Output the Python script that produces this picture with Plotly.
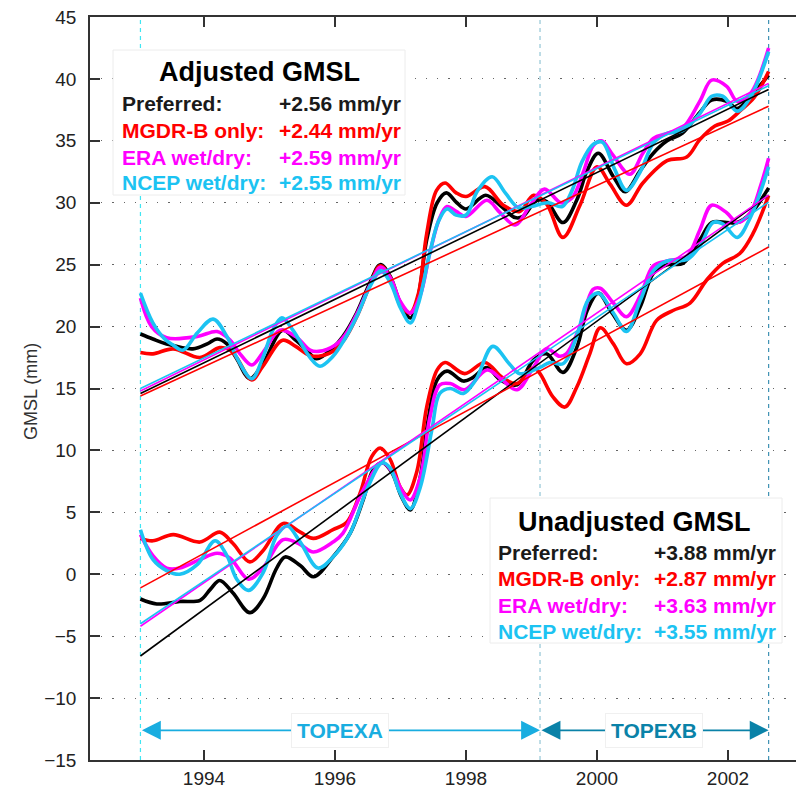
import plotly.graph_objects as go
import numpy as np

# ---------------- data ----------------
adj_pref_x = [1993.03, 1993.22, 1993.43, 1993.83, 1994.05, 1994.2, 1994.35, 1994.5, 1994.7, 1994.9,
              1995.2, 1995.4, 1995.55, 1995.72, 1995.97, 1996.12, 1996.33, 1996.53, 1996.69, 1996.84,
              1996.99, 1997.15, 1997.27, 1997.4, 1997.56, 1997.7, 1997.86, 1998.0, 1998.3, 1998.52,
              1998.75, 1998.87, 1999.08, 1999.23, 1999.48, 1999.69, 1999.85, 2000.02, 2000.25, 2000.43,
              2000.66, 2000.86, 2001.07, 2001.3, 2001.57, 2001.75, 2001.98, 2002.14, 2002.34, 2002.62]
adj_pref_y = [19.4, 19.0, 18.6, 18.2, 18.6, 19.0, 18.6, 17.4, 15.8, 17.0,
              19.7, 18.9, 18.2, 17.4, 18.3, 19.2, 21.1, 23.5, 25.0, 24.1,
              22.0, 20.7, 22.4, 27.0, 30.0, 30.8, 30.0, 29.5, 30.6, 29.8,
              28.8, 28.9, 30.2, 30.1, 28.4, 30.2, 32.6, 34.0, 32.1, 30.9,
              32.6, 34.0, 35.0, 35.6, 37.3, 38.3, 38.2, 37.6, 38.6, 40.3]

adj_mgdr_x = [1993.03, 1993.22, 1993.53, 1993.94, 1994.24, 1994.4, 1994.5, 1994.73, 1994.9, 1995.2,
              1995.4, 1995.6, 1995.75, 1995.97, 1996.15, 1996.35, 1996.53, 1996.69, 1996.84, 1996.99,
              1997.15, 1997.27, 1997.4, 1997.55, 1997.68, 1997.85, 1998.0, 1998.29, 1998.57, 1998.82,
              1999.03, 1999.23, 1999.48, 1999.74, 2000.0, 2000.2, 2000.45, 2000.7, 2001.07, 2001.37,
              2001.57, 2001.8, 2002.0, 2002.2, 2002.4, 2002.62]
adj_mgdr_y = [17.9, 17.8, 18.2, 17.5, 18.3, 18.1, 17.5, 15.7, 16.8, 18.9,
              18.4, 17.7, 17.6, 18.0, 19.0, 21.0, 23.3, 24.9, 24.0, 21.8,
              21.1, 22.6, 27.5, 31.0, 31.6, 30.8, 30.5, 31.3, 29.8, 29.3,
              30.6, 29.9, 27.2, 29.8, 32.9, 31.5, 29.8, 31.6, 33.4, 33.7,
              35.1, 36.2, 36.6, 37.5, 38.5, 40.6]

adj_era_x = [1993.03, 1993.2, 1993.43, 1993.9, 1994.2, 1994.4, 1994.55, 1994.73, 1994.9, 1995.16,
             1995.4, 1995.62, 1995.75, 1996.0, 1996.15, 1996.35, 1996.53, 1996.7, 1996.85, 1997.0,
             1997.15, 1997.3, 1997.45, 1997.6, 1997.71, 1997.85, 1998.0, 1998.32, 1998.52, 1998.75,
             1998.98, 1999.2, 1999.45, 1999.62, 1999.8, 1999.94, 2000.07, 2000.25, 2000.5, 2000.7,
             2000.86, 2001.07, 2001.3, 2001.57, 2001.75, 2001.98, 2002.14, 2002.34, 2002.62]
adj_era_y = [22.3, 20.0, 19.1, 19.2, 19.6, 18.9, 17.8, 16.9, 17.9, 19.7,
             19.2, 18.1, 18.0, 18.5, 19.3, 21.2, 23.3, 24.8, 23.9, 22.0,
             21.1, 22.5, 26.0, 28.8, 29.7, 29.3, 28.9, 30.2, 29.2, 28.2,
             29.8, 31.1, 30.0, 30.4, 32.6, 34.6, 35.0, 33.8, 32.3, 34.0,
             35.2, 35.6, 36.0, 38.2, 39.9, 39.4, 38.2, 38.8, 42.5]

adj_ncep_x = [1993.03, 1993.22, 1993.4, 1993.53, 1993.68, 1993.9, 1994.14, 1994.35, 1994.5, 1994.73,
              1994.9, 1995.05, 1995.19, 1995.36, 1995.62, 1995.77, 1995.97, 1996.15, 1996.35, 1996.53,
              1996.7, 1996.85, 1997.0, 1997.15, 1997.27, 1997.45, 1997.58, 1997.71, 1997.85, 1998.0,
              1998.18, 1998.4, 1998.6, 1998.8, 1999.0, 1999.25, 1999.47, 1999.62, 1999.77, 1999.94,
              2000.08, 2000.27, 2000.45, 2000.66, 2000.86, 2001.07, 2001.3, 2001.57, 2001.75, 2001.92,
              2002.14, 2002.34, 2002.62]
adj_ncep_y = [22.7, 20.3, 19.0, 18.5, 18.1, 19.5, 20.6, 19.2, 17.5, 15.8,
              17.5, 19.7, 20.7, 19.7, 17.5, 16.8, 17.6, 19.0, 21.0, 23.2,
              24.5, 23.5, 21.5, 20.3, 21.8, 26.0, 28.5, 29.5, 29.0, 29.0,
              31.0, 32.1, 30.8, 29.6, 29.7, 30.0, 29.7, 31.0, 33.3, 34.7,
              34.9, 32.7, 31.0, 32.5, 34.8, 35.6, 35.8, 37.2, 38.6, 38.6,
              37.4, 38.5, 42.2]

un_pref_x = [1993.03, 1993.28, 1993.63, 1993.94, 1994.1, 1994.24, 1994.44, 1994.7, 1994.9, 1995.11,
             1995.24, 1995.47, 1995.67, 1995.97, 1996.23, 1996.43, 1996.58, 1996.72, 1996.87, 1997.02,
             1997.15, 1997.3, 1997.42, 1997.56, 1997.71, 1997.96, 1998.11, 1998.32, 1998.52, 1998.78,
             1999.03, 1999.23, 1999.48, 1999.69, 1999.85, 2000.02, 2000.23, 2000.45, 2000.66, 2000.86,
             2001.07, 2001.31, 2001.57, 2001.75, 2001.98, 2002.14, 2002.34, 2002.62]
un_pref_y = [-2.0, -2.4, -2.2, -2.1, -1.2, -0.5, -1.5, -3.1, -2.0, 0.5,
             1.4, 0.7, -0.2, 1.4, 3.3, 6.0, 8.4, 9.0, 8.2, 6.2,
             5.2, 7.8, 12.4, 15.7, 16.4, 15.6, 15.9, 16.7, 15.7, 15.3,
             17.3, 17.8, 16.3, 18.3, 21.3, 22.7, 21.1, 19.7, 21.6, 24.3,
             25.0, 25.1, 27.0, 28.4, 28.4, 28.4, 29.1, 31.2]

un_mgdr_x = [1993.03, 1993.22, 1993.53, 1993.94, 1994.24, 1994.44, 1994.7, 1994.9, 1995.21, 1995.47,
             1995.67, 1995.97, 1996.18, 1996.38, 1996.56, 1996.69, 1996.84, 1997.0, 1997.1, 1997.25,
             1997.4, 1997.56, 1997.68, 1997.98, 1998.29, 1998.55, 1998.78, 1999.03, 1999.13, 1999.33,
             1999.51, 1999.69, 1999.89, 2000.05, 2000.25, 2000.45, 2000.66, 2000.91, 2001.16, 2001.42,
             2001.68, 2001.92, 2002.18, 2002.38, 2002.62]
un_mgdr_y = [2.9, 2.7, 3.2, 2.6, 3.4, 2.5, 1.0, 1.9, 4.1, 3.4,
             2.9, 3.6, 4.2, 6.5, 9.5, 10.2, 9.3, 7.0, 6.4, 8.3,
             13.5, 16.5, 17.1, 16.2, 17.1, 15.9, 15.4, 16.7, 16.2, 14.3,
             13.5, 15.1, 17.8, 19.9, 18.6, 17.0, 17.8, 20.5, 21.3, 21.9,
             23.8, 25.1, 25.9, 27.5, 30.6]

un_era_x = [1993.03, 1993.22, 1993.43, 1993.63, 1993.94, 1994.2, 1994.4, 1994.68, 1994.9, 1995.21,
            1995.47, 1995.67, 1995.97, 1996.12, 1996.43, 1996.72, 1996.87, 1997.04, 1997.15, 1997.3,
            1997.45, 1997.6, 1997.76, 1997.98, 1998.32, 1998.55, 1998.78, 1999.03, 1999.23, 1999.43,
            1999.53, 1999.74, 1999.94, 2000.05, 2000.25, 2000.45, 2000.66, 2000.86, 2001.07, 2001.37,
            2001.57, 2001.75, 2001.98, 2002.14, 2002.34, 2002.5, 2002.62]
un_era_y = [3.2, 1.5, 0.5, 0.5, 1.2, 1.7, 1.3, -0.4, 0.5, 2.8,
            2.4, 1.8, 2.6, 3.3, 6.8, 9.0, 8.3, 6.6, 6.0, 7.8,
            12.7, 15.3, 15.4, 14.9, 16.5, 15.7, 14.9, 16.7, 18.2, 17.6,
            17.8, 20.0, 23.0, 23.1, 21.9, 20.8, 22.5, 24.9, 25.3, 25.7,
            27.8, 29.8, 29.2, 28.4, 29.2, 31.4, 33.6]

un_ncep_x = [1993.03, 1993.22, 1993.43, 1993.63, 1993.9, 1994.17, 1994.35, 1994.5, 1994.68, 1994.9,
             1995.11, 1995.27, 1995.47, 1995.74, 1995.97, 1996.23, 1996.5, 1996.72, 1996.84, 1996.99,
             1997.15, 1997.3, 1997.48, 1997.6, 1997.76, 1997.96, 1998.15, 1998.41, 1998.66, 1998.82,
             1999.13, 1999.28, 1999.48, 1999.69, 1999.86, 2000.02, 2000.25, 2000.45, 2000.66, 2000.86,
             2001.07, 2001.37, 2001.57, 2001.77, 2001.92, 2002.14, 2002.34, 2002.62]
un_ncep_y = [3.6, 1.2, 0.3, 0.0, 0.8, 2.7, 1.5, -0.4, -1.3, 0.1,
             3.1, 3.9, 2.6, 0.5, 1.4, 3.3, 7.0, 9.0, 8.6, 6.6,
             5.3, 7.0, 11.7, 14.6, 15.0, 14.6, 15.7, 18.4, 17.0, 16.2,
             16.7, 17.1, 17.0, 19.2, 22.1, 22.7, 21.1, 19.6, 22.1, 24.5,
             25.3, 25.4, 26.5, 28.4, 28.3, 27.2, 28.8, 32.9]

series_labels = ["Preferred:", "MGDR-B only:", "ERA wet/dry:", "NCEP wet/dry:"]
adj_rates = [2.56, 2.44, 2.59, 2.55]
un_rates = [3.88, 2.87, 3.63, 3.55]
adj_trend_start = [14.6, 14.4, 14.8, 15.0]   # trend value at the start of the record
un_trend_start = [-6.6, -1.1, -4.2, -4.0]
trend_span = [1993.03, 2002.62]

phase_bounds = [1993.03, 1999.13, 2002.62]
phase_names = ["TOPEXA", "TOPEXB"]
phase_arrow_level = -12.6

x_ticks = [1994, 1996, 1998, 2000, 2002]
y_ticks = [-15, -10, -5, 0, 5, 10, 15, 20, 25, 30, 35, 40, 45]

# ---------------- styling ----------------
colors = ["#000000", "#ff0000", "#ff00ff", "#1cc3f2"]
text_colors = ["#1a1a1a", "#ff0000", "#ff00ff", "#1cc3f2"]
phase_colors = ["#19ade0", "#0a82a8"]
bound_colors = ["#3fe6f2", "#93c6d6", "#3f92b4"]
FONT = "Liberation Sans, Arial, Helvetica, sans-serif"

PAGE_OFF = 8                 # page body margin
W, H = 804 - PAGE_OFF, 789 - PAGE_OFF
L, R, T, B = 90 - PAGE_OFF, 0, 17 - PAGE_OFF, 789 - 760
PW, PH = W - L - R, H - T - B


def px2paper(px, py):
    """page pixel -> paper fraction"""
    fx = px - PAGE_OFF
    fy = py - PAGE_OFF
    return (fx - L) / PW, (H - B - fy) / PH


fig = go.Figure()

adj_series = [(adj_pref_x, adj_pref_y), (adj_mgdr_x, adj_mgdr_y), (adj_era_x, adj_era_y), (adj_ncep_x, adj_ncep_y)]
un_series = [(un_pref_x, un_pref_y), (un_mgdr_x, un_mgdr_y), (un_era_x, un_era_y), (un_ncep_x, un_ncep_y)]

for group in (adj_series, un_series):
    for (xs, ys), c in zip(group, colors):
        fig.add_trace(go.Scatter(x=xs, y=ys, mode="lines",
                                 line=dict(color=c, width=3.6, shape="spline", smoothing=1.0),
                                 hoverinfo="skip"))

tx = np.array(trend_span)
for starts, rates in ((adj_trend_start, adj_rates), (un_trend_start, un_rates)):
    for s, r, c in zip(starts, rates, colors):
        fig.add_trace(go.Scatter(x=tx, y=s + r * (tx - tx[0]), mode="lines",
                                 line=dict(color=c, width=1.6), hoverinfo="skip"))

shapes = []
for xb, bc in zip(phase_bounds, bound_colors):
    shapes.append(dict(type="line", xref="x", yref="paper", x0=xb, x1=xb, y0=0, y1=1,
                       line=dict(color=bc, width=1.2, dash="4px,4px"), layer="between"))

# text boxes
boxes = [
    dict(title="Adjusted GMSL", rates=adj_rates, box=(113, 50, 405, 195), title_xy=(259, 72),
         lab_x=120, val_x=277, rows=[103, 130, 157, 183]),
    dict(title="Unadjusted GMSL", rates=un_rates, box=(490, 498, 782, 643), title_xy=(634, 522),
         lab_x=496, val_x=652, rows=[552, 578, 605, 631]),
]
annotations = []
for bx in boxes:
    x0, y1 = px2paper(bx["box"][0], bx["box"][1])
    x1, y0 = px2paper(bx["box"][2], bx["box"][3])
    shapes.append(dict(type="rect", xref="paper", yref="paper", x0=x0, x1=x1, y0=y0, y1=y1,
                       fillcolor="white", line=dict(color="#ececec", width=1), layer="above"))
    tx_, ty_ = px2paper(*bx["title_xy"])
    annotations.append(dict(xref="paper", yref="paper", x=tx_, y=ty_, text="<b>%s</b>" % bx["title"],
                            showarrow=False, xanchor="center", yanchor="middle",
                            font=dict(family=FONT, size=27, color="#000000")))
    for lab, rate, tc, ry in zip(series_labels, bx["rates"], text_colors, bx["rows"]):
        lx, ly = px2paper(bx["lab_x"], ry)
        vx, _ = px2paper(bx["val_x"], ry)
        annotations.append(dict(xref="paper", yref="paper", x=lx, y=ly, text="<b>%s</b>" % lab,
                                showarrow=False, xanchor="left", yanchor="middle",
                                font=dict(family=FONT, size=21, color=tc)))
        annotations.append(dict(xref="paper", yref="paper", x=vx, y=ly, text="<b>+%.2f mm/yr</b>" % rate,
                                showarrow=False, xanchor="left", yanchor="middle",
                                font=dict(family=FONT, size=21, color=tc)))

# phase arrows
for i, name in enumerate(phase_names):
    xa, xb = phase_bounds[i], phase_bounds[i + 1]
    pc = phase_colors[i]
    annotations.append(dict(x=xb, y=phase_arrow_level, ax=xa, ay=phase_arrow_level,
                            xref="x", yref="y", axref="x", ayref="y", text="", showarrow=True,
                            arrowhead=2, startarrowhead=2, arrowside="end+start",
                            arrowsize=2.1, startarrowsize=2.1, arrowwidth=1.8, arrowcolor=pc))
    annotations.append(dict(x=(xa + xb) / 2, y=phase_arrow_level, xref="x", yref="y",
                            text="<b>%s</b>" % name, showarrow=False, bgcolor="white",
                            bordercolor="#f0f0f0", borderwidth=1, borderpad=5,
                            font=dict(family=FONT, size=21, color=pc)))

# y-axis title placed as an annotation (page x ~30)
ytx, yty = px2paper(31, 392)
annotations.append(dict(xref="paper", yref="paper", x=ytx, y=yty, text="GMSL (mm)", textangle=-90,
                        showarrow=False, xanchor="center", yanchor="middle",
                        font=dict(family=FONT, size=18, color="#333333")))

fig.update_layout(
    width=W, height=H, margin=dict(l=L, r=R, t=T, b=B),
    plot_bgcolor="white", paper_bgcolor="white", showlegend=False,
    shapes=shapes, annotations=annotations,
    font=dict(family=FONT, color="#222222"),
    xaxis=dict(range=[1992.26, 2003.16], tickvals=x_ticks, ticks="inside", ticklen=10,
               tickwidth=1.5, tickcolor="#333333", showline=True, linecolor="#333333",
               linewidth=1.5, mirror="ticks", showgrid=False, zeroline=False,
               tickfont=dict(size=19, color="#222222")),
    yaxis=dict(range=[-15, 45], tickvals=y_ticks, ticks="inside", ticklen=10, tickwidth=1.5,
               tickcolor="#333333", showline=True, linecolor="#333333", linewidth=1.5,
               showgrid=True, gridcolor="#666666", gridwidth=1.2, griddash="1.2px,10px",
               zeroline=False, tickfont=dict(size=19, color="#222222"), ticklabelstandoff=8,
               ticklabeloverflow="allow"),
)

fig.write_html("out.html")
